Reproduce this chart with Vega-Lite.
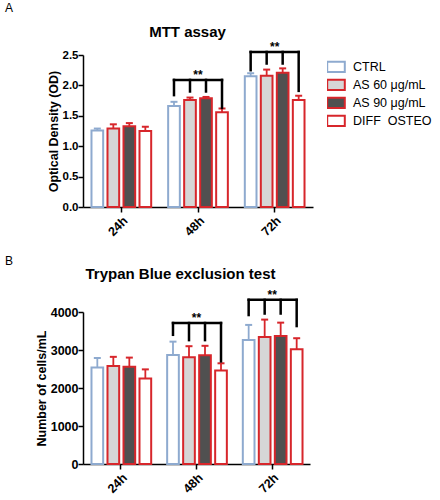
{
  "$schema": "https://vega.github.io/schema/vega-lite/v6.json",
  "padding": {"left": 5, "top": 2, "right": 0, "bottom": 0},
  "spacing": 16,
  "config": {
    "font": "Liberation Sans",
    "view": {"stroke": null},
    "axis": {"grid": false, "domainColor": "black", "tickColor": "black", "labelColor": "black", "titleColor": "black", "domainWidth": 1.5, "tickWidth": 1.5, "tickSize": 5, "labelFontWeight": "bold", "titleFontWeight": "bold", "labelFont": "Liberation Sans", "titleFont": "Liberation Sans", "labelOverlap": false, "labelFlush": false},
    "axisY": {"labelPadding": 0, "titleFontSize": 12.5, "titlePadding": 2, "labelOverlap": false},
    "legend": {"symbolType": "M-1.1,-0.65H1.1V0.65H-1.1Z", "symbolSize": 256, "symbolStrokeWidth": 2, "labelFontSize": 12.5, "labelOffset": 8, "rowPadding": 0, "clipHeight": 17.7, "padding": 0, "labelColor": "black", "labelFont": "Liberation Sans"}
  },
  "datasets": {
    "mtt": [
      {"time": "24h", "group": "CTRL", "value": 1.26, "upper": 1.29},
      {"time": "24h", "group": "AS 60 μg/mL", "value": 1.29, "upper": 1.36},
      {"time": "24h", "group": "AS 90 μg/mL", "value": 1.33, "upper": 1.38},
      {"time": "24h", "group": "DIFF\u00a0 OSTEO", "value": 1.25, "upper": 1.32},
      {"time": "48h", "group": "CTRL", "value": 1.66, "upper": 1.73},
      {"time": "48h", "group": "AS 60 μg/mL", "value": 1.76, "upper": 1.8},
      {"time": "48h", "group": "AS 90 μg/mL", "value": 1.79, "upper": 1.81},
      {"time": "48h", "group": "DIFF\u00a0 OSTEO", "value": 1.56, "upper": 1.62},
      {"time": "72h", "group": "CTRL", "value": 2.15, "upper": 2.2},
      {"time": "72h", "group": "AS 60 μg/mL", "value": 2.16, "upper": 2.26},
      {"time": "72h", "group": "AS 90 μg/mL", "value": 2.21, "upper": 2.28},
      {"time": "72h", "group": "DIFF\u00a0 OSTEO", "value": 1.76, "upper": 1.83}
    ],
    "mttBr": [
      {"time": "48h", "group": "CTRL", "lo": 1.84, "hi": 2.09},
      {"time": "48h", "group": "AS 60 μg/mL", "lo": 1.9, "hi": 2.09},
      {"time": "48h", "group": "AS 90 μg/mL", "lo": 1.9, "hi": 2.09},
      {"time": "48h", "group": "DIFF\u00a0 OSTEO", "lo": 1.63, "hi": 2.09},
      {"time": "72h", "group": "CTRL", "lo": 2.25, "hi": 2.55},
      {"time": "72h", "group": "AS 60 μg/mL", "lo": 2.36, "hi": 2.55},
      {"time": "72h", "group": "AS 90 μg/mL", "lo": 2.36, "hi": 2.55},
      {"time": "72h", "group": "DIFF\u00a0 OSTEO", "lo": 1.91, "hi": 2.55}
    ],
    "mttStar": [
      {"time": "48h", "hi": 2.09},
      {"time": "72h", "hi": 2.55}
    ],
    "tryp": [
      {"time": "24h", "group": "CTRL", "value": 2540, "upper": 2790},
      {"time": "24h", "group": "AS 60 μg/mL", "value": 2580, "upper": 2820},
      {"time": "24h", "group": "AS 90 μg/mL", "value": 2560, "upper": 2800},
      {"time": "24h", "group": "DIFF\u00a0 OSTEO", "value": 2250, "upper": 2490},
      {"time": "48h", "group": "CTRL", "value": 2870, "upper": 3220},
      {"time": "48h", "group": "AS 60 μg/mL", "value": 2810, "upper": 3100},
      {"time": "48h", "group": "AS 90 μg/mL", "value": 2860, "upper": 3110},
      {"time": "48h", "group": "DIFF\u00a0 OSTEO", "value": 2460, "upper": 2650},
      {"time": "72h", "group": "CTRL", "value": 3260, "upper": 3660},
      {"time": "72h", "group": "AS 60 μg/mL", "value": 3340, "upper": 3800},
      {"time": "72h", "group": "AS 90 μg/mL", "value": 3370, "upper": 3720},
      {"time": "72h", "group": "DIFF\u00a0 OSTEO", "value": 3020, "upper": 3310}
    ],
    "trypBr": [
      {"time": "48h", "group": "CTRL", "lo": 3400, "hi": 3710},
      {"time": "48h", "group": "AS 60 μg/mL", "lo": 3260, "hi": 3710},
      {"time": "48h", "group": "AS 90 μg/mL", "lo": 3260, "hi": 3710},
      {"time": "48h", "group": "DIFF\u00a0 OSTEO", "lo": 2700, "hi": 3710},
      {"time": "72h", "group": "CTRL", "lo": 3920, "hi": 4320},
      {"time": "72h", "group": "AS 60 μg/mL", "lo": 3960, "hi": 4320},
      {"time": "72h", "group": "AS 90 μg/mL", "lo": 3960, "hi": 4320},
      {"time": "72h", "group": "DIFF\u00a0 OSTEO", "lo": 3630, "hi": 4320}
    ],
    "trypStar": [
      {"time": "48h", "hi": 3710},
      {"time": "72h", "hi": 4320}
    ]
  },
  "vconcat": [
    {
      "width": 230,
      "height": 152,
      "title": {"text": "A", "anchor": "start", "frame": "group", "dx": -78, "fontSize": 12, "fontWeight": "normal", "baseline": "alphabetic", "offset": 0, "color": "black"},
      "resolve": {"axis": {"x": "independent"}},
      "layer": [
        {
          "data": {"name": "mtt"},
          "mark": {"type": "bar", "strokeWidth": 2},
          "encoding": {
            "x": {"field": "time", "type": "nominal", "scale": {"paddingInner": 0, "paddingOuter": 0}, "axis": {"title": null, "labelAngle": -45, "labelFontSize": 12.5, "labelPadding": 2, "labelOverlap": false}},
            "xOffset": {"field": "group", "type": "nominal", "scale": {"domain": ["CTRL", "AS 60 μg/mL", "AS 90 μg/mL", "DIFF\u00a0 OSTEO"], "paddingInner": 0.27, "paddingOuter": 0.53}},
            "y": {"field": "value", "type": "quantitative", "title": "Optical Density (OD)", "scale": {"domain": [0, 2.5], "nice": false}, "axis": {"values": [0, 0.5, 1, 1.5, 2, 2.5], "format": ".1f", "labelFontSize": 11.5}},
            "fill": {"field": "group", "type": "nominal", "scale": {"domain": ["CTRL", "AS 60 μg/mL", "AS 90 μg/mL", "DIFF\u00a0 OSTEO"], "range": ["#ffffff", "#d6d6d6", "#505050", "#ffffff"]}, "legend": {"orient": "none", "legendX": 244, "legendY": 3, "title": null}},
            "stroke": {"field": "group", "type": "nominal", "scale": {"domain": ["CTRL", "AS 60 μg/mL", "AS 90 μg/mL", "DIFF\u00a0 OSTEO"], "range": ["#8eaacf", "#d7262b", "#d7262b", "#d7262b"]}, "legend": {"orient": "none", "legendX": 244, "legendY": 3, "title": null}}
          }
        },
        {
          "data": {"name": "mtt"},
          "mark": {"type": "rule", "strokeWidth": 1.8},
          "encoding": {
            "x": {"field": "time", "type": "nominal", "axis": null},
            "xOffset": {"field": "group", "type": "nominal"},
            "y": {"field": "value", "type": "quantitative", "title": "Optical Density (OD)", "scale": {"domain": [0, 2.5], "nice": false}, "axis": {"values": [0, 0.5, 1, 1.5, 2, 2.5], "format": ".1f", "labelFontSize": 11.5}},
            "y2": {"field": "upper"},
            "stroke": {"field": "group", "type": "nominal", "legend": null}
          }
        },
        {
          "data": {"name": "mtt"},
          "mark": {"type": "point", "shape": "stroke", "size": 49, "strokeWidth": 2, "filled": false, "opacity": 1},
          "encoding": {
            "x": {"field": "time", "type": "nominal", "axis": null},
            "xOffset": {"field": "group", "type": "nominal"},
            "y": {"field": "upper", "type": "quantitative", "title": "Optical Density (OD)", "scale": {"domain": [0, 2.5], "nice": false}, "axis": {"values": [0, 0.5, 1, 1.5, 2, 2.5], "format": ".1f", "labelFontSize": 11.5}},
            "stroke": {"field": "group", "type": "nominal", "legend": null}
          }
        },
        {
          "data": {"name": "mttBr"},
          "mark": {"type": "rule", "strokeWidth": 2.5, "color": "black", "strokeCap": "square"},
          "encoding": {
            "x": {"field": "time", "type": "nominal", "axis": null},
            "xOffset": {"field": "group", "type": "nominal"},
            "y": {"field": "lo", "type": "quantitative", "title": "Optical Density (OD)", "scale": {"domain": [0, 2.5], "nice": false}, "axis": {"values": [0, 0.5, 1, 1.5, 2, 2.5], "format": ".1f", "labelFontSize": 11.5}},
            "y2": {"field": "hi"}
          }
        },
        {
          "data": {"name": "mttBr"},
          "transform": [{"filter": {"field": "group", "oneOf": ["CTRL", "DIFF\u00a0 OSTEO"]}}],
          "mark": {"type": "line", "strokeWidth": 2.5, "color": "black", "strokeCap": "square"},
          "encoding": {
            "x": {"field": "time", "type": "nominal", "axis": null},
            "xOffset": {"field": "group", "type": "nominal"},
            "y": {"field": "hi", "type": "quantitative", "title": "Optical Density (OD)", "scale": {"domain": [0, 2.5], "nice": false}, "axis": {"values": [0, 0.5, 1, 1.5, 2, 2.5], "format": ".1f", "labelFontSize": 11.5}},
            "detail": {"field": "time"}
          }
        },
        {
          "data": {"name": "mttStar"},
          "mark": {"type": "text", "text": "**", "fontWeight": "bold", "fontSize": 12, "baseline": "alphabetic", "dy": -1, "color": "black"},
          "encoding": {
            "x": {"field": "time", "type": "nominal", "axis": {"orient": "top", "title": "MTT assay", "labels": false, "ticks": false, "domain": false, "titleX": 104, "titleY": -19, "titleFontSize": 15, "titleBaseline": "alphabetic", "titleAlign": "center", "titleAngle": 0}},
            "y": {"field": "hi", "type": "quantitative", "title": "Optical Density (OD)", "scale": {"domain": [0, 2.5], "nice": false}, "axis": {"values": [0, 0.5, 1, 1.5, 2, 2.5], "format": ".1f", "labelFontSize": 11.5}}
          }
        }
      ]
    },
    {
      "width": 227,
      "height": 152,
      "title": {"text": "B", "anchor": "start", "frame": "group", "dx": -78, "fontSize": 12, "fontWeight": "normal", "baseline": "alphabetic", "offset": -11, "color": "black"},
      "resolve": {"axis": {"x": "independent"}},
      "layer": [
        {
          "data": {"name": "tryp"},
          "mark": {"type": "bar", "strokeWidth": 2},
          "encoding": {
            "x": {"field": "time", "type": "nominal", "scale": {"paddingInner": 0, "paddingOuter": 0}, "axis": {"title": null, "labelAngle": -45, "labelFontSize": 12.5, "labelPadding": 2, "labelOverlap": false}},
            "xOffset": {"field": "group", "type": "nominal", "scale": {"domain": ["CTRL", "AS 60 μg/mL", "AS 90 μg/mL", "DIFF\u00a0 OSTEO"], "paddingInner": 0.27, "paddingOuter": 0.53}},
            "y": {"field": "value", "type": "quantitative", "title": "Number of cells/mL", "scale": {"domain": [0, 4000], "nice": false}, "axis": {"values": [0, 1000, 2000, 3000, 4000], "format": "d", "labelFontSize": 12.5}},
            "fill": {"field": "group", "type": "nominal", "scale": {"domain": ["CTRL", "AS 60 μg/mL", "AS 90 μg/mL", "DIFF\u00a0 OSTEO"], "range": ["#ffffff", "#d6d6d6", "#505050", "#ffffff"]}, "legend": {"orient": "none", "legendX": 246, "legendY": 35, "title": null}},
            "stroke": {"field": "group", "type": "nominal", "scale": {"domain": ["CTRL", "AS 60 μg/mL", "AS 90 μg/mL", "DIFF\u00a0 OSTEO"], "range": ["#8eaacf", "#d7262b", "#d7262b", "#d7262b"]}, "legend": {"orient": "none", "legendX": 246, "legendY": 35, "title": null}}
          }
        },
        {
          "data": {"name": "tryp"},
          "mark": {"type": "rule", "strokeWidth": 1.8},
          "encoding": {
            "x": {"field": "time", "type": "nominal", "axis": null},
            "xOffset": {"field": "group", "type": "nominal"},
            "y": {"field": "value", "type": "quantitative", "title": "Number of cells/mL", "scale": {"domain": [0, 4000], "nice": false}, "axis": {"values": [0, 1000, 2000, 3000, 4000], "format": "d", "labelFontSize": 12.5}},
            "y2": {"field": "upper"},
            "stroke": {"field": "group", "type": "nominal", "legend": null}
          }
        },
        {
          "data": {"name": "tryp"},
          "mark": {"type": "point", "shape": "stroke", "size": 49, "strokeWidth": 2, "filled": false, "opacity": 1},
          "encoding": {
            "x": {"field": "time", "type": "nominal", "axis": null},
            "xOffset": {"field": "group", "type": "nominal"},
            "y": {"field": "upper", "type": "quantitative", "title": "Number of cells/mL", "scale": {"domain": [0, 4000], "nice": false}, "axis": {"values": [0, 1000, 2000, 3000, 4000], "format": "d", "labelFontSize": 12.5}},
            "stroke": {"field": "group", "type": "nominal", "legend": null}
          }
        },
        {
          "data": {"name": "trypBr"},
          "mark": {"type": "rule", "strokeWidth": 2.5, "color": "black", "strokeCap": "square"},
          "encoding": {
            "x": {"field": "time", "type": "nominal", "axis": null},
            "xOffset": {"field": "group", "type": "nominal"},
            "y": {"field": "lo", "type": "quantitative", "title": "Number of cells/mL", "scale": {"domain": [0, 4000], "nice": false}, "axis": {"values": [0, 1000, 2000, 3000, 4000], "format": "d", "labelFontSize": 12.5}},
            "y2": {"field": "hi"}
          }
        },
        {
          "data": {"name": "trypBr"},
          "transform": [{"filter": {"field": "group", "oneOf": ["CTRL", "DIFF\u00a0 OSTEO"]}}],
          "mark": {"type": "line", "strokeWidth": 2.5, "color": "black", "strokeCap": "square"},
          "encoding": {
            "x": {"field": "time", "type": "nominal", "axis": null},
            "xOffset": {"field": "group", "type": "nominal"},
            "y": {"field": "hi", "type": "quantitative", "title": "Number of cells/mL", "scale": {"domain": [0, 4000], "nice": false}, "axis": {"values": [0, 1000, 2000, 3000, 4000], "format": "d", "labelFontSize": 12.5}},
            "detail": {"field": "time"}
          }
        },
        {
          "data": {"name": "trypStar"},
          "mark": {"type": "text", "text": "**", "fontWeight": "bold", "fontSize": 12, "baseline": "alphabetic", "dy": -1, "color": "black"},
          "encoding": {
            "x": {"field": "time", "type": "nominal", "axis": {"orient": "top", "title": "Trypan Blue exclusion test", "labels": false, "ticks": false, "domain": false, "titleX": 97, "titleY": -34, "titleFontSize": 15, "titleBaseline": "alphabetic", "titleAlign": "center", "titleAngle": 0}},
            "y": {"field": "hi", "type": "quantitative", "title": "Number of cells/mL", "scale": {"domain": [0, 4000], "nice": false}, "axis": {"values": [0, 1000, 2000, 3000, 4000], "format": "d", "labelFontSize": 12.5}}
          }
        }
      ]
    }
  ]
}
